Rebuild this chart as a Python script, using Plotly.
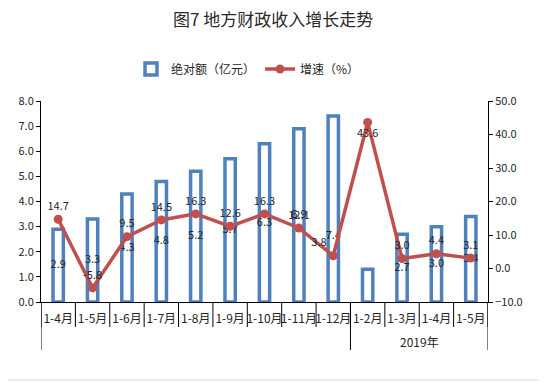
import plotly.graph_objects as go

# ---- data ----
periods = ["1-4月", "1-5月", "1-6月", "1-7月", "1-8月", "1-9月", "1-10月",
           "1-11月", "1-12月", "1-2月", "1-3月", "1-4月", "1-5月"]
group_label = "2019年"
group_start = 9  # index where the 2019 group begins
amount = [2.9, 3.3, 4.3, 4.8, 5.2, 5.7, 6.3, 6.9, 7.4, 1.3, 2.7, 3.0, 3.4]
growth = [14.7, -5.8, 9.5, 14.5, 16.3, 12.6, 16.3, 12.1, 3.8, 43.6, 3.0, 4.4, 3.1]

n = len(periods)
xs = list(range(n))
FONT = "Noto Sans CJK SC"
TXT = "#262626"
BLUE = "#4F81BD"
RED = "#C0504D"

# bar label positions: centre of bar, with the two hand-moved labels
bar_label_y = [v / 2 for v in amount]
bar_label_y[8] = 2.6
bar_label_y[9] = -0.25

line_pos = ["top center"] * n
line_pos[9] = "bottom center"
line_pos[8] = "top left"

fig = go.Figure()
fig.add_trace(go.Bar(
    x=xs, y=amount, name="绝对额（亿元）", width=0.3,
    marker=dict(color="white", line=dict(color=BLUE, width=3.5)),
    yaxis="y"))
fig.add_trace(go.Scatter(
    x=xs, y=bar_label_y, mode="text", text=[f"{v:.1f}" for v in amount],
    textfont=dict(family=FONT, size=11, color=TXT), showlegend=False,
    cliponaxis=False, hoverinfo="skip", yaxis="y"))
fig.add_trace(go.Scatter(
    x=xs, y=growth, name="增速（%）", mode="lines+markers+text",
    line=dict(color=RED, width=3.5), marker=dict(color=RED, size=9),
    text=[f"{v:.1f}" for v in growth], textposition=line_pos,
    textfont=dict(family=FONT, size=11, color=TXT),
    cliponaxis=False, yaxis="y2"))

# page body has an 8px margin, so the figure is laid out 8px up/left
OFF = 8
W, H = 547 - OFF, 382 - OFF
ml, mt = 41 - OFF, 101 - OFF
pr, pb = 488 - OFF, 302 - OFF
mr, mb = W - pr, H - pb
pw, ph = pr - ml, pb - mt


def px_x(p):
    return (p - OFF - ml) / pw


def px_y(p):
    return (pb - (p - OFF)) / ph


shapes = [
    dict(type="line", xref="paper", yref="paper", x0=px_x(545), x1=px_x(545),
         y0=px_y(OFF), y1=px_y(380), line=dict(color="#D9D9D9", width=1)),
    dict(type="line", xref="paper", yref="paper", x0=px_x(OFF), x1=px_x(545),
         y0=px_y(380), y1=px_y(380), line=dict(color="#D9D9D9", width=1)),
]
# category boundary ticks
for i in range(n + 1):
    shapes.append(dict(type="line", xref="x", yref="paper",
                       x0=i - 0.5, x1=i - 0.5, y0=0, y1=-25 / ph,
                       line=dict(color="black", width=1)))
# group dividers
for b in (-0.5, group_start - 0.5, n - 0.5):
    shapes.append(dict(type="line", xref="x", yref="paper",
                       x0=b, x1=b, y0=0, y1=-48 / ph,
                       line=dict(color="black", width=1)))

annotations = [
    dict(x=(group_start + n - 1) / 2, xref="x", y=px_y(341),
         yref="paper", text=group_label, showarrow=False,
         font=dict(family=FONT, size=12, color=TXT),
         xanchor="center", yanchor="middle"),
    dict(x=px_x(273), xref="paper", y=px_y(18), yref="paper",
         text="图7 地方财政收入增长走势", showarrow=False,
         font=dict(family=FONT, size=17, color="#2a2a2a"),
         xanchor="center", yanchor="middle"),
]

fig.update_layout(
    width=W, height=H,
    margin=dict(l=ml, r=mr, t=mt, b=mb, autoexpand=False),
    paper_bgcolor="white", plot_bgcolor="white",
    font=dict(family=FONT, size=11, color=TXT),
    legend=dict(orientation="h", x=px_x(248), xanchor="center",
                y=px_y(69), yanchor="middle",
                font=dict(family=FONT, size=12, color=TXT),
                bgcolor="rgba(0,0,0,0)", itemwidth=30),
    showlegend=True,
    xaxis=dict(range=[-0.5, n - 0.5], tickmode="array", tickvals=xs,
               ticktext=periods, showline=True, linecolor="black", linewidth=1,
               ticks="outside", ticklen=6, tickcolor="rgba(0,0,0,0)",
               showgrid=False, zeroline=False, tickangle=0,
               tickfont=dict(family=FONT, size=12, color=TXT)),
    yaxis=dict(range=[0, 8], dtick=1, tickformat=".1f", showline=True,
               linecolor="black", linewidth=1, ticks="outside", ticklen=4,
               tickcolor="black", showgrid=False, zeroline=False,
               tickfont=dict(family=FONT, size=11, color=TXT)),
    yaxis2=dict(range=[-10, 50], dtick=10, tickformat=".1f", overlaying="y",
                side="right", showline=True, linecolor="black", linewidth=1,
                ticks="outside", ticklen=4, tickcolor="black", showgrid=False,
                zeroline=False, tickfont=dict(family=FONT, size=11, color=TXT)),
    shapes=shapes,
    annotations=annotations,
)

fig.write_html("out.html")
